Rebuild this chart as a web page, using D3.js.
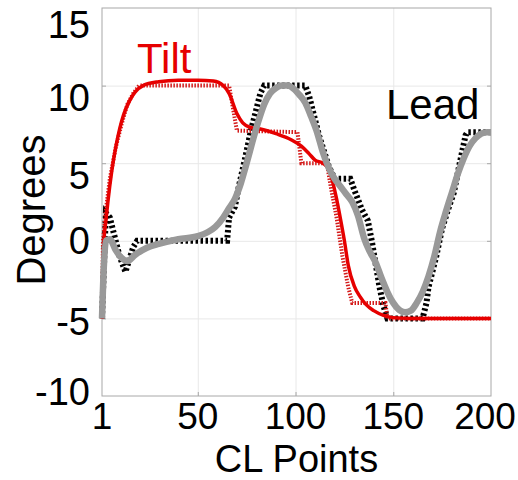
<!DOCTYPE html>
<html>
<head>
<meta charset="utf-8">
<script src="https://cdn.jsdelivr.net/npm/d3@7"></script>
<style>
  body { margin: 0; background: #fff; }
  text { font-family: "Liberation Sans", Arial, sans-serif; }
</style>
</head>
<body>
<svg id="chart"></svg>
<script>
// 1) Data ------------------------------------------------------------
const xTicks = [1, 50, 100, 150, 200];
const yTicks = [-10, -5, 0, 5, 10, 15];

// Tilt command (dotted red, stepped)
const tiltCmdX = [1, 1.5, 3, 5, 8, 11, 14, 17, 20, 66, 70, 101, 103, 116, 118, 121, 124, 127, 129, 146, 147, 200];
const tiltCmdY = [-5, 0, 2, 4, 6, 7.5, 8.8, 9.5, 10, 10, 7.1, 7.0, 5.0, 5.0, 3.5, 1.5, -1, -3, -4, -4, -5, -5];

// Tilt response (solid red)
const tiltX = [1, 2, 3, 4, 6, 8, 10, 12, 15, 18, 22, 30, 40, 50, 58, 63, 66, 70, 73, 77, 82, 90, 98, 103, 107, 110, 114, 117, 119, 121, 123, 125, 127, 130, 133, 136, 140, 145, 150, 158, 200];
const tiltY = [-5, 0, 1.3, 2.5, 4.5, 6, 7.2, 8.1, 9.0, 9.6, 10.0, 10.25, 10.35, 10.35, 10.3, 10.0, 9.5, 8.2, 7.6, 7.3, 7.2, 6.9, 6.5, 6.1, 5.6, 5.2, 5.0, 4.6, 3.8, 2.7, 1.4, 0, -1.6, -2.9, -3.6, -4.1, -4.5, -4.8, -4.95, -5, -5];

// Lead command (dashed black, stepped)
const leadCmdX = [1, 3, 5, 7, 10, 13, 15, 17, 19, 65, 66, 69, 71, 74, 77, 80, 82, 84, 105, 107, 110, 112, 114, 117, 120, 128, 130, 134, 137, 139, 141, 143, 145, 147, 165, 167, 168, 172, 175, 178, 181, 184, 187, 188, 200];
const leadCmdY = [-5, 1.8, 1.5, 0.5, -1, -2, -1.2, -0.4, 0, 0, 1.5, 2.2, 3.5, 5.2, 7, 8.5, 9.5, 10, 10, 9.3, 7.8, 6.8, 6, 4.8, 4, 4, 3.3, 2, 1.3, 0, -1.5, -3, -4.2, -5, -5, -4, -3, -1, 0.8, 2, 3.1, 5, 6.8, 7, 7];

// Lead response (solid grey)
const leadX = [1, 2, 3, 5, 8, 11, 14, 18, 24, 30, 40, 50, 55, 59, 63, 66, 69, 72, 75, 78, 81, 84, 87, 90, 93, 96, 99, 102, 105, 108, 111, 114, 117, 120, 123, 126, 129, 132, 135, 138, 141, 144, 147, 150, 153, 156, 159, 162, 165, 168, 171, 174, 177, 180, 183, 186, 189, 192, 195, 198, 200];
const leadY = [-5, -1.5, 0, 0.1, -0.6, -1.1, -1.3, -0.9, -0.45, -0.2, 0.1, 0.3, 0.55, 0.9, 1.5, 2.1, 2.7, 3.7, 5.0, 6.4, 7.7, 8.8, 9.5, 9.85, 10.0, 10.0, 9.8, 9.4, 8.9, 8.0, 7.0, 5.7, 4.7, 4.0, 3.5, 3.0, 2.5, 1.6, 0.2, -0.7, -1.4, -2.4, -3.3, -4.0, -4.45, -4.6, -4.5, -4.0, -3.3, -2.3, -1.0, 0.6, 1.9, 3.1, 4.3, 5.3, 6.1, 6.6, 6.9, 7.0, 7.0];

// 2) Dimensions -------------------------------------------------------
const width = 518;
const height = 480;
const margin = { top: 8, right: 27, bottom: 84, left: 102 };
const innerW = width - margin.left - margin.right;
const innerH = height - margin.top - margin.bottom;

const svg = d3.select('#chart')
  .attr('width', width)
  .attr('height', height);

const g = svg.append('g')
  .attr('transform', `translate(${margin.left},${margin.top})`);

const x = d3.scaleLinear().domain([1, 200]).range([0, innerW]);
const y = d3.scaleLinear().domain([-10, 15]).range([innerH, 0]);

// 3) Grid + box -------------------------------------------------------
g.append('g')
  .attr('transform', `translate(0,${innerH})`)
  .call(d3.axisBottom(x).tickValues(xTicks.slice(1, -1)).tickSize(-innerH).tickFormat(''))
  .call(a => a.select('.domain').remove())
  .selectAll('line').attr('stroke', '#e8e8e8');

g.append('g')
  .call(d3.axisLeft(y).tickValues(yTicks.slice(1, -1)).tickSize(-innerW).tickFormat(''))
  .call(a => a.select('.domain').remove())
  .selectAll('line').attr('stroke', '#e8e8e8');

g.append('rect')
  .attr('width', innerW)
  .attr('height', innerH)
  .attr('fill', 'none')
  .attr('stroke', '#a8a8a8')
  .attr('stroke-width', 1);

// small inward ticks
g.append('g')
  .attr('transform', `translate(0,${innerH})`)
  .call(d3.axisTop(x).tickValues(xTicks.slice(1, -1)).tickSize(4).tickFormat(''))
  .call(a => a.select('.domain').remove())
  .selectAll('line').attr('stroke', '#a8a8a8');
g.append('g')
  .call(d3.axisRight(y).tickValues(yTicks.slice(1, -1)).tickSize(4).tickFormat(''))
  .call(a => a.select('.domain').remove())
  .selectAll('line').attr('stroke', '#a8a8a8');
g.append('g')
  .attr('transform', `translate(${innerW},0)`)
  .call(d3.axisLeft(y).tickValues(yTicks.slice(1, -1)).tickSize(4).tickFormat(''))
  .call(a => a.select('.domain').remove())
  .selectAll('line').attr('stroke', '#a8a8a8');

// 4) Tick labels ------------------------------------------------------
// last label is pulled in so it stays inside the frame
const xNudge = { '1': 0, '50': 0, '100': 0, '150': 0, '200': -6 };
g.selectAll('.xlab')
  .data(xTicks)
  .enter().append('text')
  .attr('x', d => x(d) + xNudge[d])
  .attr('y', innerH + 33)
  .attr('text-anchor', 'middle')
  .attr('font-size', 37)
  .attr('fill', '#000')
  .text(d => d);

// the original labels sit a little below their gridlines near the top
const yNudge = { '15': 16, '10': 12, '5': 12, '0': 0, '-5': 3, '-10': -5 };
g.selectAll('.ylab')
  .data(yTicks)
  .enter().append('text')
  .attr('x', -12)
  .attr('y', d => y(d) + yNudge[d] + 13.5)
  .attr('text-anchor', 'end')
  .attr('font-size', 38)
  .attr('fill', '#000')
  .text(d => String(d));

// 5) Axis titles ------------------------------------------------------
svg.append('text')
  .attr('x', margin.left + innerW / 2)
  .attr('y', 472)
  .attr('text-anchor', 'middle')
  .attr('font-size', 38)
  .text('CL Points');

svg.append('text')
  .attr('transform', 'translate(45,210) rotate(-90)')
  .attr('text-anchor', 'middle')
  .attr('font-size', 40)
  .text('Degrees');

// 6) Lines ------------------------------------------------------------
const zip = (xs, ys) => xs.map((v, i) => [v, ys[i]]);
const straight = d3.line().x(d => x(d[0])).y(d => y(d[1]));
const smooth = d3.line().x(d => x(d[0])).y(d => y(d[1])).curve(d3.curveMonotoneX);

g.append('path')
  .attr('d', straight(zip(leadCmdX, leadCmdY)))
  .attr('fill', 'none')
  .attr('stroke', '#000')
  .attr('stroke-width', 6)
  .attr('stroke-dasharray', '2.5,2.5');

g.append('path')
  .attr('d', straight(zip(tiltCmdX, tiltCmdY)))
  .attr('fill', 'none')
  .attr('stroke', '#d41a1a')
  .attr('stroke-width', 4)
  .attr('stroke-dasharray', '1.5,1.5');

g.append('path')
  .attr('d', smooth(zip(tiltX, tiltY)))
  .attr('fill', 'none')
  .attr('stroke', '#e60000')
  .attr('stroke-width', 3.5);

g.append('path')
  .attr('d', smooth(zip(leadX, leadY)))
  .attr('fill', 'none')
  .attr('stroke', '#999999')
  .attr('stroke-width', 6.5);

// 7) Series labels ----------------------------------------------------
svg.append('text')
  .attr('x', 137)
  .attr('y', 73)
  .attr('font-size', 42)
  .attr('fill', '#e60000')
  .text('Tilt');

svg.append('text')
  .attr('x', 386)
  .attr('y', 119)
  .attr('font-size', 42)
  .attr('fill', '#000')
  .text('Lead');
</script>
</body>
</html>
